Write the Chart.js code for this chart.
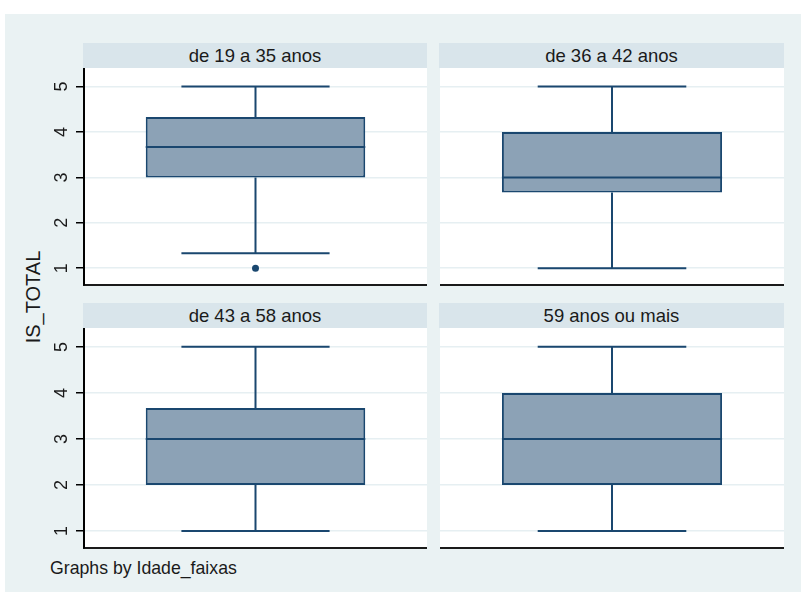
<!DOCTYPE html>
<html>
<head>
<meta charset="utf-8">
<script src="https://cdn.jsdelivr.net/npm/chart.js@4.4.1/dist/chart.umd.min.js"></script>
<style>
  html, body { margin: 0; padding: 0; background: #ffffff; width: 801px; height: 592px; overflow: hidden;
    font-family: "Liberation Sans", Arial, sans-serif; }
  #frame { position: absolute; left: 5px; top: 14px; width: 796px; height: 578px; background: #EAF2F3; }
  .strip { position: absolute; height: 25px; line-height: 25px; background: #D9E5EB; color: #1a1a1a;
    font-size: 18.5px; text-align: center; white-space: nowrap; }
  canvas { position: absolute; }
  #ytitle { position: absolute; left: 33px; top: 297px; font-size: 20px; line-height: 1; color: #1a1a1a;
    white-space: nowrap; transform: translate(-50%, -50%) rotate(-90deg); }
  #note { position: absolute; left: 50px; top: 560px; font-size: 17.7px; line-height: 1; color: #1a1a1a; white-space: nowrap; }
</style>
</head>
<body>
<div id="frame"></div>
<div id="ytitle"></div>
<div id="note"></div>
<script>
// Age groups (one panel each) and the box-plot statistics of IS_TOTAL per group
const groups = ['de 19 a 35 anos', 'de 36 a 42 anos', 'de 43 a 58 anos', '59 anos ou mais'];
const lowerWhisker = [1.33, 1, 1, 1];
const quartile1 = [3, 2.67, 2, 2];
const medianValue = [3.67, 3, 3, 3];
const quartile3 = [4.33, 4, 3.67, 4];
const upperWhisker = [5, 5, 5, 5];
const outliers = [[1], [], [], []];

// Axis setup
const yTicks = [1, 2, 3, 4, 5];
const yMin = 0.63;
const yMax = 5.41;
const yTitle = 'IS_TOTAL';
const noteText = 'Graphs by Idade_faixas';

const NAVY = '#1A476F';
const BOX_FILL = 'rgb(140,162,182)';
const FONT = '"Liberation Sans", Arial, sans-serif';
const AXIS_W = 44;

document.getElementById('ytitle').textContent = yTitle;
document.getElementById('note').textContent = noteText;

// Plot-region layout of the 2x2 grid of panels
const panels = [
  { left: 84,  top: 68,  width: 343, height: 217, axis: true },
  { left: 440, top: 68,  width: 344, height: 217, axis: false },
  { left: 84,  top: 328, width: 343, height: 220, axis: true },
  { left: 440, top: 328, width: 344, height: 220, axis: false }
];

// White plot region behind the grid
const plotBackground = {
  id: 'plotBackground',
  beforeDraw(chart) {
    const a = chart.chartArea;
    const ctx = chart.ctx;
    ctx.save();
    ctx.fillStyle = '#ffffff';
    ctx.fillRect(a.left, a.top, a.right - a.left, a.bottom - a.top);
    ctx.restore();
  }
};

// Whiskers, caps and median line, positioned through the chart's own scales
const boxWhiskers = {
  id: 'boxWhiskers',
  beforeDatasetsDraw(chart, args, opts) {
    const i = opts.index;
    const bar = chart.getDatasetMeta(0).data[0];
    if (!bar) return;
    const ys = chart.scales.y;
    const ctx = chart.ctx;
    const x = bar.x;
    const half = bar.width * opts.capRatio / 2;
    const yHi = ys.getPixelForValue(upperWhisker[i]);
    const yLo = ys.getPixelForValue(lowerWhisker[i]);
    const yQ3 = ys.getPixelForValue(quartile3[i]);
    const yQ1 = ys.getPixelForValue(quartile1[i]);
    ctx.save();
    ctx.strokeStyle = opts.color;
    ctx.lineWidth = opts.lineWidth;
    ctx.beginPath();
    ctx.moveTo(x, yQ3); ctx.lineTo(x, yHi);
    ctx.moveTo(x, yQ1); ctx.lineTo(x, yLo);
    ctx.moveTo(x - half, yHi); ctx.lineTo(x + half, yHi);
    ctx.moveTo(x - half, yLo); ctx.lineTo(x + half, yLo);
    ctx.stroke();
    ctx.restore();
  },
  afterDatasetsDraw(chart, args, opts) {
    const i = opts.index;
    const bar = chart.getDatasetMeta(0).data[0];
    if (!bar) return;
    const ctx = chart.ctx;
    const yMed = chart.scales.y.getPixelForValue(medianValue[i]);
    ctx.save();
    ctx.strokeStyle = opts.color;
    ctx.lineWidth = opts.lineWidth;
    ctx.beginPath();
    ctx.moveTo(bar.x - bar.width / 2, yMed);
    ctx.lineTo(bar.x + bar.width / 2, yMed);
    ctx.stroke();
    ctx.restore();
  }
};

panels.forEach((p, i) => {
  // header strip with the group name
  const strip = document.createElement('div');
  strip.className = 'strip';
  strip.style.left = (p.left - 1) + 'px';
  strip.style.top = (p.top - 25) + 'px';
  strip.style.width = (p.width + 1) + 'px';
  strip.textContent = groups[i];
  document.body.appendChild(strip);

  const axisW = p.axis ? AXIS_W : 0;
  const canvas = document.createElement('canvas');
  canvas.width = p.width + axisW;
  canvas.height = p.height + 3;
  canvas.style.left = (p.left - axisW) + 'px';
  canvas.style.top = p.top + 'px';
  document.body.appendChild(canvas);

  new Chart(canvas, {
    type: 'bar',
    data: {
      labels: [groups[i]],
      datasets: [
        {
          type: 'bar',
          data: [[quartile1[i], quartile3[i]]],
          backgroundColor: BOX_FILL,
          borderColor: NAVY,
          borderWidth: 2,
          borderSkipped: false,
          barPercentage: 0.64,
          categoryPercentage: 1,
          order: 2
        },
        {
          type: 'line',
          data: outliers[i].map(v => ({ x: groups[i], y: v })),
          showLine: false,
          pointRadius: 3.5,
          pointBackgroundColor: NAVY,
          pointBorderColor: NAVY,
          pointBorderWidth: 0,
          clip: false,
          order: 1
        }
      ]
    },
    options: {
      responsive: false,
      animation: false,
      devicePixelRatio: 1,
      events: [],
      layout: { autoPadding: false, padding: { left: 0, right: 0, top: 0, bottom: 3 } },
      plugins: {
        legend: { display: false },
        tooltip: { enabled: false },
        title: { display: false },
        boxWhiskers: { index: i, capRatio: 0.675, color: NAVY, lineWidth: 2 }
      },
      scales: {
        x: {
          type: 'category',
          offset: true,
          grid: { display: false, drawTicks: false },
          ticks: { display: false },
          border: { display: true, color: '#1a1a1a', width: 2 },
          afterFit: s => { s.height = 0; s.paddingLeft = 0; s.paddingRight = 0; }
        },
        y: {
          min: yMin,
          max: yMax,
          afterBuildTicks: s => { s.ticks = yTicks.map(v => ({ value: v })); },
          afterFit: s => { s.width = axisW; s.paddingTop = 0; s.paddingBottom = 0; },
          grid: {
            color: '#E6EFF2',
            lineWidth: 1.5,
            drawTicks: p.axis,
            tickLength: 8,
            tickColor: '#000',
            tickWidth: 1.5
          },
          border: { display: p.axis, color: '#000', width: 2 },
          ticks: {
            display: p.axis,
            minRotation: 90,
            maxRotation: 90,
            crossAlign: 'center',
            padding: 9,
            color: '#1a1a1a',
            font: { family: FONT, size: 18 }
          }
        }
      }
    },
    plugins: [plotBackground, boxWhiskers]
  });
});
</script>
</body>
</html>
